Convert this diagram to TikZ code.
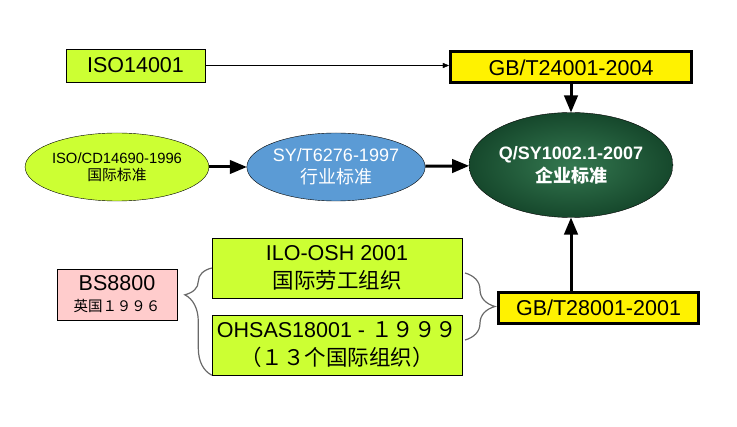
\documentclass[tikz,border=0pt]{standalone}
\usepackage{fontspec}
\setmainfont{Liberation Sans}
\newfontfamily\cjk{Noto Sans CJK SC}
\usetikzlibrary{shapes.geometric, arrows, decorations.pathreplacing}
\definecolor{limegreen}{RGB}{204,255,51}
\definecolor{skyblue}{RGB}{91,155,213}
\definecolor{pinkish}{RGB}{255,204,204}
\definecolor{marbleIn}{RGB}{52,120,80}
\definecolor{marbleOut}{RGB}{22,72,44}
\definecolor{bracegray}{RGB}{105,105,105}
\tikzstyle{limebox} = [rectangle, minimum width=250pt, minimum height=60pt, align=center, inner sep=2pt, draw=black, fill=limegreen, font=\fontsize{21.5}{28}\selectfont]
\tikzstyle{gbbox} = [rectangle, minimum width=200pt, minimum height=31pt, text centered, draw=black, line width=3pt, fill=yellow, font=\fontsize{21.5}{26}\selectfont]
\tikzstyle{oval} = [ellipse, inner sep=0pt, align=center, draw=black, thin]
\tikzstyle{arrow} = [line width=3pt,->,>=triangle 45]
\tikzstyle{thinarrow} = [thin,->,>=triangle 45]
\tikzstyle{bracket} = [decorate, draw=bracegray, line width=1.2pt]

\begin{document}
\begin{tikzpicture}[x=1pt, y=-1pt, node distance=77pt]
        \useasboundingbox (0,0) rectangle (737,427);

        % top row
        \node (iso) [limebox, minimum width=139pt, minimum height=33pt] at (135.5,65.5) {ISO14001};
        \node (gb24) [gbbox, minimum width=241pt] at (571,67.5) {GB/T24001-2004};

        % middle row
        \node (isocd) [oval, fill=limegreen, minimum width=164pt, minimum height=68pt, font=\fontsize{14.8}{17}\selectfont] at (117,167) {ISO/CD14690-1996\\{\cjk 国际标准}};
        \node (syt) [oval, fill=skyblue, text=white, minimum width=178pt, minimum height=68pt, font=\fontsize{18}{22}\selectfont] at (336,167) {SY/T6276-1997\\{\cjk 行业标准}};
        \node (qsy) [oval, inner color=marbleIn, outer color=marbleOut, text=white, minimum width=198pt, minimum height=105pt, font=\fontsize{18}{23}\selectfont\bfseries] at (571,165) {Q/SY1002.1-2007\\{\cjk 企业标准}};

        % bottom row
        \node (bs) [rectangle, draw=black, fill=pinkish, minimum width=120pt, minimum height=51pt, align=center, inner sep=1pt, font=\fontsize{14.5}{21}\selectfont] at (117,294.5) {{\fontsize{21.5}{21}\selectfont BS8800}\\{\cjk 英国１９９６}};
        \node (ilo) [limebox] at (337,268) {ILO-OSH 2001\\{\cjk 国际劳工组织}};
        \node (ohsas) [limebox, below of=ilo] {OHSAS18001 - {\cjk １９９９}\\{\cjk （１３个国际组织）}};
        \node (gb28) [gbbox] at (598.5,308) {GB/T28001-2001};

        \coordinate (rtop) at (465,273);
        \coordinate (rbot) at (465,340);

        \draw [thinarrow] (iso.east) -- (iso.east -| gb24.west);
        \draw [arrow] (gb24) -- (qsy);
        \draw [arrow] (isocd) -- (syt);
        \draw [arrow] (syt) -- (qsy);
        \draw [arrow] (gb28.north -| qsy.south) -- (qsy.south);

        \draw [bracket, decoration={brace, amplitude=27pt, aspect=0.75}] (ohsas.south west) -- (ilo.west);
        \draw [bracket, decoration={brace, amplitude=30pt}] (rtop) -- (rbot);

      \end{tikzpicture}
\end{document}
